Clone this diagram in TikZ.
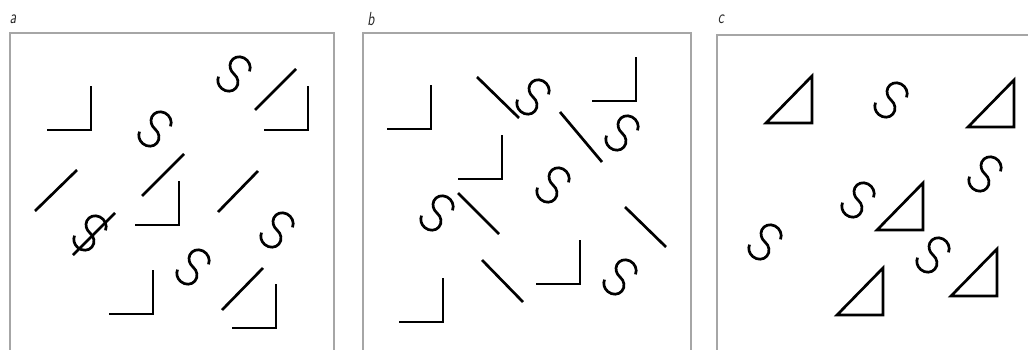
\documentclass[tikz,border=0pt]{standalone}
\usetikzlibrary{positioning}

\tikzset{
  stroke/.style={line width=2.7pt},
  frame/.style={line width=1.2pt, gray!70},
  tag/.style={font=\sffamily\itshape\fontsize{14}{14}\selectfont, text=gray!30!black, inner sep=0pt, yscale=1.35},
  pics/ess/.style={code={
    \draw[stroke] (10.14,11.96) arc[start angle=15, end angle=270, x radius=10.5, y radius=9.5]
                  arc[start angle=90, end angle=-165, x radius=10.5, y radius=9.5];}},
  pics/ell/.style={code={\draw[stroke] (-44,0) -- (0,0) -- (0,44);}},
  pics/tri/.style={code={\draw[stroke, line join=miter] (-46,0) -- (0,0) -- (0,47) -- cycle;}},
}

\begin{document}
\begin{tikzpicture}[x=1pt, y=1pt]
  \clip (0,0) rectangle (1028,-350);

  % panels
  \draw[frame] (10,-33) rectangle (334,-360);
  \draw[frame] (363,-33) rectangle (691,-360);
  \draw[frame] (717,-35) rectangle (1040,-360);
  \node[tag] (taga) at (13,-19) {a};
  \node[tag] (tagb) at (371,-19) {b};
  \node[tag] (tagc) at (721,-19) {c};

  % S shapes
  \foreach \x/\y in {155/129, 234/74, 277/230, 193/267, 90/233,
                     533/97, 622/133, 553/185, 437/213, 620/277,
                     891/100, 985/174, 858/200, 765/242, 933/255}
    \pic[rotate=-40] at (\x,-\y) {ess};

  % L shapes
  \foreach \x/\y in {91/130, 308/130, 179/225, 153/314, 276/328,
                     431/129, 636/101, 502/179, 580/284, 443/322}
    \pic at (\x,-\y) {ell};

  % triangles
  \foreach \x/\y in {812/123, 1014/127, 923/230, 997/296, 883/315}
    \pic at (\x,-\y) {tri};

  % bars in a
  \foreach \xa/\ya/\xb/\yb in {35/211/77/170, 142/196/184/154, 218/212/258/171,
                               255/110/296/69, 222/310/263/268, 73/255/115/213}
    \draw[stroke] (\xa,-\ya) -- (\xb,-\yb);

  % bars in b
  \foreach \xa/\ya/\xb/\yb in {477/77/519/118, 560/112/602/162, 458/193/499/234,
                               625/207/666/247, 482/260/523/302}
    \draw[stroke] (\xa,-\ya) -- (\xb,-\yb);
\end{tikzpicture}
\end{document}
